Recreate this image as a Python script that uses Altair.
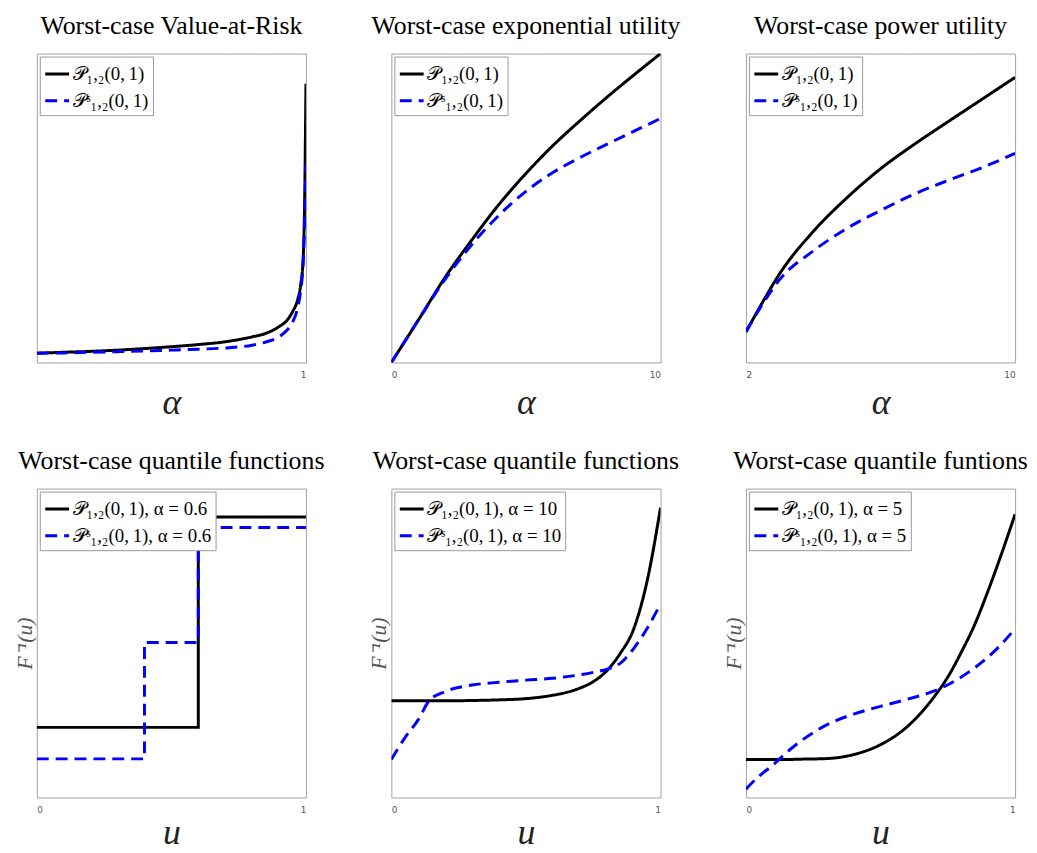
import altair as alt
import pandas as pd

# ---------------- data (y in plot-height units) ----------------
L1 = "𝒫₁,₂(0,\u20091)"
L2 = "𝒫ˢ₁,₂(0,\u20091)"

# Panel 1: worst-case Value-at-Risk
var_alpha = [0, 0.1, 0.2, 0.3, 0.4, 0.5, 0.6, 0.7, 0.8, 0.85, 0.9, 0.93, 0.95, 0.97, 0.98, 0.99, 0.995, 1.0]
var_p = [0.030, 0.033, 0.036, 0.040, 0.045, 0.051, 0.058, 0.067, 0.083, 0.094, 0.116, 0.137, 0.164, 0.206, 0.249, 0.345, 0.517, 0.902]
var_ps = [0.030, 0.031, 0.033, 0.035, 0.037, 0.040, 0.043, 0.047, 0.056, 0.066, 0.083, 0.105, 0.130, 0.180, 0.230, 0.330, 0.450, 0.640]

# Panel 2: worst-case exponential utility
exp_alpha = [0, 1, 2, 3, 4, 5, 6, 7, 8, 9, 10]
exp_p = [0.0, 0.137, 0.276, 0.398, 0.512, 0.612, 0.702, 0.782, 0.858, 0.930, 1.0]
exp_ps = [0.0, 0.137, 0.270, 0.383, 0.477, 0.554, 0.615, 0.663, 0.706, 0.748, 0.790]

# Panel 3: worst-case power utility
pow_alpha = [2, 2.5, 3, 4, 5, 6, 7, 8, 9, 10]
pow_p = [0.099, 0.196, 0.287, 0.424, 0.533, 0.627, 0.706, 0.779, 0.851, 0.923]
pow_ps = [0.099, 0.190, 0.268, 0.361, 0.434, 0.492, 0.545, 0.589, 0.630, 0.677]

# Panel 4: quantile functions, alpha = 0.6 (step functions)
q06_u_p = [0.0, 0.6, 1.0]
q06_p = [0.227, 0.908, 0.908]
q06_u_ps = [0.0, 0.4, 0.6, 1.0]
q06_ps = [0.125, 0.502, 0.874, 0.874]

# Panel 5: quantile functions, alpha = 10
q10_u = [0, 0.05, 0.1, 0.14, 0.2, 0.3, 0.4, 0.5, 0.6, 0.65, 0.7, 0.75, 0.8, 0.85, 0.9, 0.95, 1.0]
q10_p = [0.313, 0.313, 0.313, 0.313, 0.313, 0.314, 0.316, 0.320, 0.331, 0.340, 0.354, 0.375, 0.410, 0.466, 0.545, 0.700, 0.938]
q10_ps = [0.123, 0.193, 0.252, 0.313, 0.343, 0.364, 0.373, 0.380, 0.386, 0.391, 0.397, 0.405, 0.415, 0.434, 0.482, 0.547, 0.627]

# Panel 6: quantile functions, alpha = 5
q5_u = [0, 0.05, 0.1, 0.15, 0.2, 0.3, 0.4, 0.5, 0.6, 0.7, 0.75, 0.8, 0.85, 0.9, 0.95, 1.0]
q5_p = [0.123, 0.123, 0.123, 0.123, 0.124, 0.126, 0.139, 0.171, 0.230, 0.327, 0.390, 0.470, 0.560, 0.670, 0.790, 0.917]
q5_ps = [0.027, 0.070, 0.105, 0.145, 0.180, 0.235, 0.270, 0.295, 0.318, 0.345, 0.365, 0.390, 0.420, 0.455, 0.497, 0.547]

W, H = 271, 311


def panel(series, labels, title, xdom, xvals, xtitle, ytitle=None, step=False, xtitle_y=51):
    rows = []
    for (xs, ys), lab in zip(series, labels):
        for x, y in zip(xs, ys):
            rows.append({"x": x, "y": y, "s": lab})
    df = pd.DataFrame(rows)
    if ytitle:
        yaxis = alt.Axis(title=ytitle, labels=False, ticks=False, domain=False, grid=False,
                         titleX=-12.5, titleY=H / 2, titleBaseline="middle", titleAngle=270,
                         titleFontSize=22, titleColor="#555555")
    else:
        yaxis = None
    leg = alt.Legend(title=None)
    return alt.Chart(df, title=title).mark_line(
        strokeWidth=3, clip=True, interpolate="step-after" if step else "monotone"
    ).encode(
        x=alt.X("x:Q", scale=alt.Scale(domain=xdom, nice=False, zero=False),
                axis=alt.Axis(values=xvals, format="d", title=xtitle, titleY=xtitle_y,
                              titleBaseline="alphabetic")),
        y=alt.Y("y:Q", scale=alt.Scale(domain=[0, 1], nice=False), axis=yaxis),
        color=alt.Color("s:N", scale=alt.Scale(domain=labels, range=["black", "blue"]), legend=leg),
        strokeDash=alt.StrokeDash("s:N", scale=alt.Scale(domain=labels, range=[[1, 0], [12, 7]]), legend=leg),
    ).properties(width=W, height=H)


p1 = panel([(var_alpha, var_p), (var_alpha, var_ps)], [L1, L2], "Worst-case Value-at-Risk", [0, 1], [1], "α")
p2 = panel([(exp_alpha, exp_p), (exp_alpha, exp_ps)], [L1, L2], "Worst-case exponential utility", [0, 10], [0, 10], "α")
p3 = panel([(pow_alpha, pow_p), (pow_alpha, pow_ps)], [L1, L2], "Worst-case power utility", [2, 10], [2, 10], "α")
p4 = panel([(q06_u_p, q06_p), (q06_u_ps, q06_ps)], [L1 + ", α = 0.6", L2 + ", α = 0.6"],
           "Worst-case quantile functions", [0, 1], [0, 1], "u", ytitle="F⁻¹(u)", step=True, xtitle_y=46)
p5 = panel([(q10_u, q10_p), (q10_u, q10_ps)], [L1 + ", α = 10", L2 + ", α = 10"],
           "Worst-case quantile functions", [0, 1], [0, 1], "u", ytitle="F⁻¹(u)", xtitle_y=46)
p6 = panel([(q5_u, q5_p), (q5_u, q5_ps)], [L1 + ", α = 5", L2 + ", α = 5"],
           "Worst-case quantile funtions", [0, 1], [0, 1], "u", ytitle="F⁻¹(u)", xtitle_y=46)

chart = alt.concat(
    p1, p2, p3, p4, p5, p6, columns=3, spacing={"row": 127, "column": 86}, bounds="flush"
).resolve_scale(
    color="independent", strokeDash="independent", x="independent", y="independent"
).resolve_legend(
    color="independent", strokeDash="independent"
).properties(
    padding={"left": 5, "top": 1, "right": 0, "bottom": 0}
).configure_view(
    stroke="#a0a0a0", strokeWidth=1
).configure_title(
    font="Liberation Serif", fontSize=26, fontWeight="normal", color="black",
    anchor="middle", baseline="alphabetic", offset=15
).configure_axis(
    grid=False, domain=False, ticks=False, tickSize=0,
    labelFont="DejaVu Sans", labelFontSize=9, labelColor="#555555", labelPadding=8,
    titleFont="Liberation Serif", titleFontStyle="italic", titleFontWeight="normal",
    titleFontSize=36, titleColor="#222222"
).configure_legend(
    orient="top-left", offset=3, strokeColor="#999999", fillColor="white", padding=4,
    labelFont="Liberation Serif", labelFontSize=19, labelColor="black", labelLimit=400,
    symbolType="stroke", symbolSize=576, symbolStrokeWidth=3, rowPadding=3, labelOffset=2,
    cornerRadius=0
)

chart.save("out.html", embed_options={"renderer": "svg", "actions": False})
